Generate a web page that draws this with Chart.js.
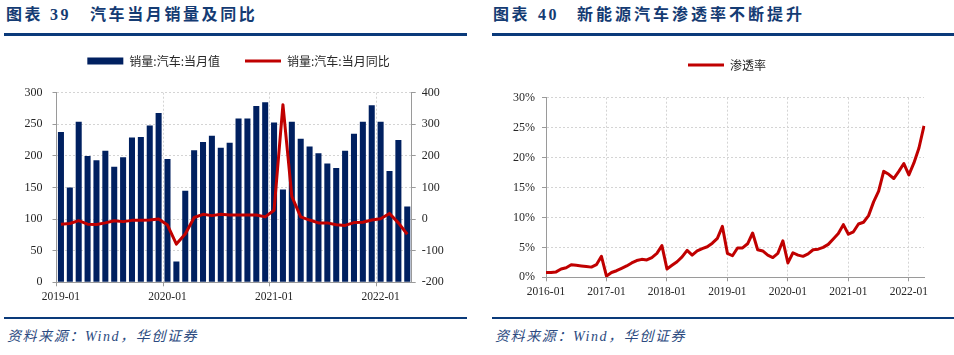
<!DOCTYPE html>
<html>
<head>
<meta charset="utf-8">
<script src="https://cdn.jsdelivr.net/npm/chart.js@4/dist/chart.umd.min.js"></script>
<style>
  html, body { margin: 0; padding: 0; background: #ffffff; }
  body { width: 954px; height: 355px; overflow: hidden; position: relative;
         font-family: "Liberation Serif", "Noto Sans CJK SC", serif; }
  .t { position: absolute; top: 5px; line-height: 20px; font-size: 16px; font-weight: bold;
       color: #143b73; letter-spacing: 2.6px; white-space: nowrap; }
  .rule { position: absolute; height: 2.5px; background: #0a3a7a; }
  .src { position: absolute; top: 327px; line-height: 20px; font-size: 14px; font-style: italic;
         color: #2b4a80; letter-spacing: 1.6px; white-space: nowrap; }
  .box { position: absolute; top: 10px; height: 300px; }
</style>
</head>
<body>
  <div class="t" style="left:6px">图表</div>
  <div class="t" style="left:50px">39</div>
  <div class="t" style="left:90px">汽车当月销量及同比</div>
  <div class="rule" style="left:4px; width:463px; top:33px"></div>

  <div class="t" style="left:493px">图表</div>
  <div class="t" style="left:538px">40</div>
  <div class="t" style="left:577px; letter-spacing:3px">新能源汽车渗透率不断提升</div>
  <div class="rule" style="left:492px; width:462px; top:33px"></div>

  <div class="box" style="left:0px; width:477px"><canvas id="c1"></canvas></div>
  <div class="box" style="left:500px; width:454px"><canvas id="c2"></canvas></div>

  <div class="rule" style="left:4px; width:463px; top:316.5px"></div>
  <div class="rule" style="left:492px; width:462px; top:316.5px"></div>
  <div class="src" style="left:7px">资料来源：Wind，华创证券</div>
  <div class="src" style="left:495px">资料来源：Wind，华创证券</div>

<script>
// ---------------- data: chart 39 ----------------
const salesMonths = [
  '2019-01','2019-02','2019-03','2019-04','2019-05','2019-06','2019-07','2019-08','2019-09','2019-10','2019-11','2019-12',
  '2020-01','2020-02','2020-03','2020-04','2020-05','2020-06','2020-07','2020-08','2020-09','2020-10','2020-11','2020-12',
  '2021-01','2021-02','2021-03','2021-04','2021-05','2021-06','2021-07','2021-08','2021-09','2021-10','2021-11','2021-12',
  '2022-01','2022-02','2022-03','2022-04'
];
const salesValues = [
  238, 150, 254, 200, 193, 208, 183, 198, 229, 230, 248, 268,
  195,  33, 145, 209, 222, 232, 213, 221, 259, 259, 279, 285,
  253, 147, 254, 227, 215, 204, 188, 181, 208, 235, 254, 280,
  254, 176, 225, 120
];
const salesYoY = [
  -16, -14,  -5, -16, -17, -12,  -5,  -8,  -4,  -4,  -3,   0,
  -19, -79, -47,   5,  15,  11,  15,  13,  13,  13,  13,   7,
   28, 362,  72,   7,  -3, -12, -12, -18, -20, -11, -10,  -3,
    1,  18, -12, -48
];
const salesTickLabels = ['2019-01','2020-01','2021-01','2022-01'];
const salesSeriesNames = ['销量:汽车:当月值', '销量:汽车:当月同比'];

// ---------------- data: chart 40 ----------------
const nevMonths = [
  '2016-01','2016-02','2016-03','2016-04','2016-05','2016-06','2016-07','2016-08','2016-09','2016-10','2016-11','2016-12',
  '2017-01','2017-02','2017-03','2017-04','2017-05','2017-06','2017-07','2017-08','2017-09','2017-10','2017-11','2017-12',
  '2018-01','2018-02','2018-03','2018-04','2018-05','2018-06','2018-07','2018-08','2018-09','2018-10','2018-11','2018-12',
  '2019-01','2019-02','2019-03','2019-04','2019-05','2019-06','2019-07','2019-08','2019-09','2019-10','2019-11','2019-12',
  '2020-01','2020-02','2020-03','2020-04','2020-05','2020-06','2020-07','2020-08','2020-09','2020-10','2020-11','2020-12',
  '2021-01','2021-02','2021-03','2021-04','2021-05','2021-06','2021-07','2021-08','2021-09','2021-10','2021-11','2021-12',
  '2022-01','2022-02','2022-03','2022-04'
];
const nevPenetration = [
  0.8, 0.8, 0.9, 1.4, 1.6, 2.1, 2.0, 1.9, 1.8, 1.7, 2.1, 3.5,
  0.2, 0.8, 1.1, 1.5, 1.9, 2.4, 2.8, 3.0, 2.9, 3.3, 4.0, 5.3,
  1.4, 2.0, 2.6, 3.4, 4.5, 3.7, 4.4, 4.8, 5.1, 5.7, 6.5, 8.5,
  4.0, 3.6, 4.9, 4.9, 5.6, 7.4, 4.6, 4.4, 3.7, 3.3, 4.0, 6.1,
  2.4, 4.1, 3.7, 3.5, 3.9, 4.6, 4.7, 5.0, 5.5, 6.4, 7.3, 8.8,
  7.2, 7.6, 8.9, 9.2, 10.3, 12.6, 14.4, 17.7, 17.2, 16.5, 17.7, 19.0,
  17.1, 19.1, 21.6, 25.3
];
const nevTickLabels = ['2016-01','2017-01','2018-01','2019-01','2020-01','2021-01','2022-01'];
const nevSeriesName = '渗透率';

// ---------------- styles ----------------
const NAVY = '#002060';
const RED = '#C00000';
const AXIS = '#9a9a9a';
const GRID = '#d4d4d4';
const CLEAR = 'rgba(0,0,0,0)';
const TICK_FONT = { family: 'Liberation Serif', size: 12 };
const XTICK_FONT = { family: 'Liberation Serif', size: 11.5 };
const LEGEND_FONT = { family: 'Noto Sans CJK SC', size: 12 };
const TXT = '#262626';

function legendGap(extra) {
  return {
    id: 'legendGap',
    beforeInit(chart) {
      const orig = chart.legend.fit;
      chart.legend.fit = function () { orig.call(this); this.height += extra; };
    }
  };
}

// ---------------- chart 39 ----------------
new Chart(document.getElementById('c1'), {
  type: 'bar',
  data: {
    labels: salesMonths,
    datasets: [
      { type: 'bar', label: salesSeriesNames[0], data: salesValues, yAxisID: 'y',
        backgroundColor: NAVY, borderWidth: 0, barPercentage: 0.68, categoryPercentage: 1.0, order: 2 },
      { type: 'line', label: salesSeriesNames[1], data: salesYoY, yAxisID: 'y1',
        borderColor: RED, backgroundColor: RED, borderWidth: 3, pointRadius: 0, tension: 0,
        borderJoinStyle: 'round', order: 1 }
    ]
  },
  options: {
    responsive: true, maintainAspectRatio: false, animation: false,
    layout: { padding: { top: 20, left: 0, right: 0, bottom: 0 } },
    plugins: {
      tooltip: { enabled: false },
      legend: {
        display: true, position: 'top',
        labels: {
          usePointStyle: true, pointStyleWidth: 36, boxHeight: 7, padding: 25,
          font: LEGEND_FONT, color: TXT,
          generateLabels(chart) {
            return chart.data.datasets.map((ds, i) => ({
              text: ds.label,
              fillStyle: ds.type === 'bar' ? NAVY : RED,
              strokeStyle: ds.type === 'bar' ? NAVY : RED,
              lineWidth: ds.type === 'bar' ? 0 : 3,
              pointStyle: ds.type === 'bar' ? 'rect' : 'line',
              fontColor: TXT,
              datasetIndex: i, hidden: false
            }));
          }
        }
      }
    },
    scales: {
      x: {
        type: 'category', offset: true,
        grid: {
          offset: true, lineWidth: 1, tickLength: 4,
          color: c => (c.index !== undefined && c.index % 12 === 0 && c.index > 0 ? GRID : CLEAR),
          tickColor: c => (c.index !== undefined && c.index % 12 === 0 ? AXIS : CLEAR)
        },
        border: { color: AXIS, width: 1, dash: [2, 2] },
        ticks: {
          autoSkip: false, maxRotation: 0, minRotation: 0, padding: 3.5, font: XTICK_FONT, color: TXT,
          callback(v) { const l = this.getLabelForValue(v); return salesTickLabels.includes(l) ? l : ''; }
        },
        afterFit(s) { s.height = 27.7; }
      },
      y: {
        position: 'left', min: 0, max: 300,
        ticks: { stepSize: 50, padding: 10, font: TICK_FONT, color: TXT },
        grid: { color: GRID, tickColor: AXIS, tickLength: 4, lineWidth: 1 },
        border: { color: AXIS, width: 1, dash: [2, 2] },
        afterFit(s) { s.width = 56.5; }
      },
      y1: {
        position: 'right', min: -200, max: 400,
        ticks: { stepSize: 100, padding: 6, font: TICK_FONT, color: TXT, callback: v => String(v) },
        grid: { drawOnChartArea: false, tickColor: AXIS, tickLength: 4 },
        border: { color: AXIS, width: 1 },
        afterFit(s) { s.width = 65.3; }
      }
    }
  },
  plugins: [legendGap(15.7)]
});

// ---------------- chart 40 ----------------
new Chart(document.getElementById('c2'), {
  type: 'line',
  data: {
    labels: nevMonths,
    datasets: [
      { label: nevSeriesName, data: nevPenetration, borderColor: RED, backgroundColor: RED,
        borderWidth: 3, pointRadius: 0, tension: 0, borderJoinStyle: 'round', yAxisID: 'y' }
    ]
  },
  options: {
    responsive: true, maintainAspectRatio: false, animation: false,
    layout: { padding: { top: 24, left: 0, right: 0, bottom: 0 } },
    plugins: {
      tooltip: { enabled: false },
      legend: {
        display: true, position: 'top',
        labels: {
          usePointStyle: true, pointStyleWidth: 36, boxHeight: 7, padding: 25,
          font: LEGEND_FONT, color: TXT,
          generateLabels(chart) {
            return chart.data.datasets.map((ds, i) => ({
              text: ds.label, fillStyle: RED, strokeStyle: RED, lineWidth: 3,
              pointStyle: 'line', fontColor: TXT, datasetIndex: i, hidden: false
            }));
          }
        }
      }
    },
    scales: {
      x: {
        type: 'category', offset: false,
        grid: {
          lineWidth: 1, tickLength: 4,
          color: c => (c.index !== undefined && c.index % 12 === 0 && c.index > 0 ? GRID : CLEAR),
          tickColor: c => (c.index !== undefined && c.index % 12 === 0 ? AXIS : CLEAR)
        },
        border: { color: AXIS, width: 1, dash: [2, 2] },
        ticks: {
          autoSkip: false, maxRotation: 0, minRotation: 0, padding: 4, font: XTICK_FONT, color: TXT,
          callback(v) { const l = this.getLabelForValue(v); return nevTickLabels.includes(l) ? l : ''; }
        },
        afterFit(s) { s.height = 32.7; }
      },
      y: {
        position: 'left', min: 0, max: 30,
        ticks: { stepSize: 5, padding: 7, font: TICK_FONT, color: TXT, callback: v => v + '%' },
        grid: { color: GRID, tickColor: AXIS, tickLength: 4, lineWidth: 1 },
        border: { color: AXIS, width: 1, dash: [2, 2] },
        afterFit(s) { s.width = 46; }
      },
      yPad: {
        position: 'right', min: 0, max: 30, display: true,
        ticks: { display: false },
        grid: { display: false, drawTicks: false },
        border: { display: false },
        afterFit(s) { s.width = 30; }
      }
    }
  },
  plugins: [legendGap(16.7)]
});
</script>
</body>
</html>
